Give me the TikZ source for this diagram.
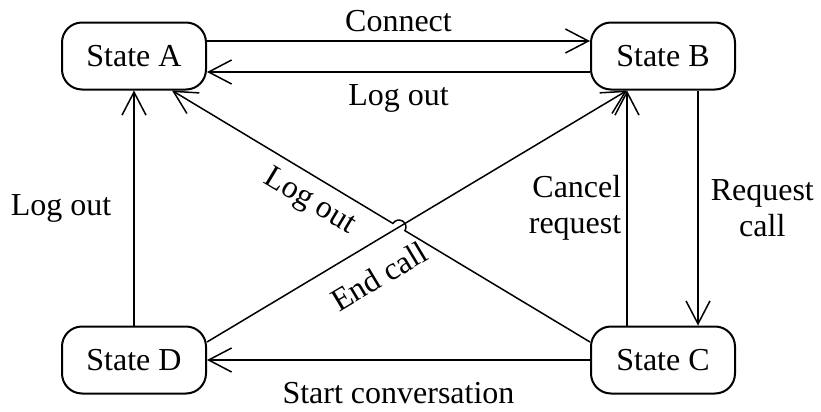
\documentclass[tikz,border=0pt]{standalone}
\usepackage{fontspec}
\setmainfont{Liberation Serif}
\usetikzlibrary{arrows.meta,calc}

\tikzset {
  state style/.style = {
    draw=black,
    line width=1pt,
    rounded corners=10pt,
    minimum width=72pt,
    minimum height=33.5pt,
    inner sep=2pt
  },
  edge style/.style = {
    line width=0.75pt,
    -{Straight Barb[length=11.5pt,width=12pt]}
  },
  label style/.style = {
    inner sep=0pt
  }
}

\begin{document}
\begin{tikzpicture}[x=0.5pt, y=-0.5pt, font=\fontsize{16}{18}\selectfont]

\useasboundingbox (0,0) rectangle (821,412);

% --- States ---
\node[state style] (sA) at (134,56)  {State A};
\node[state style] (sB) at (663,56)  {State B};
\node[state style] (sC) at (663,360) {State C};
\node[state style] (sD) at (134,360) {State D};

% --- Top pair ---
\draw[edge style] ($(sA.east)+(0,-15)$) -- ($(sB.west)+(0,-15)$)
    node[midway, above=4pt, label style] {Connect};
\draw[edge style] ($(sB.west)+(0,16)$) -- ($(sA.east)+(0,16)$)
    node[midway, below=6pt, label style] {Log out};

% --- Left and bottom ---
\draw[edge style] (sD.north) -- (sA.south)
    node[midway, left=11pt, label style] {Log out};
\draw[edge style] (sC.west) -- (sD.east)
    node[midway, below=11pt, label style] {Start conversation};

% --- Right pair ---
\draw[edge style] ($(sC.north)+(-36,0)$) -- ($(sB.south)+(-36,0)$)
    node[midway, left=2.5pt, label style, align=right] {Cancel\\request};
\draw[edge style] ($(sB.south)+(35,0)$) -- ($(sC.north)+(35,0)$)
    node[midway, right=6pt, label style, align=center] {Request\\call};

% --- Diagonals ---
\coordinate (ca0) at ($(sC.west)+(0,-18)$);
\coordinate (ca1) at ($(sA.south)+(38,0)$);
\coordinate (db0) at ($(sD.east)+(0,-18)$);
\coordinate (db1) at ($(sB.south)+(-36,0)$);
\coordinate (hop) at (intersection of ca0--ca1 and db0--db1);

\draw[edge style] (db0) -- (db1)
    node[pos=0.37, sloped, below=10pt, label style] {End call};

% log out line hops over the end call line
\draw[edge style] (ca0) -- ($(hop)!3.5pt!(ca0)$)
    arc[start angle=-31.07, end angle=148.93, radius=3.5pt] -- (ca1)
    node[pos=0.32, sloped, below=5pt, label style] {Log out};

\end{tikzpicture}
\end{document}
